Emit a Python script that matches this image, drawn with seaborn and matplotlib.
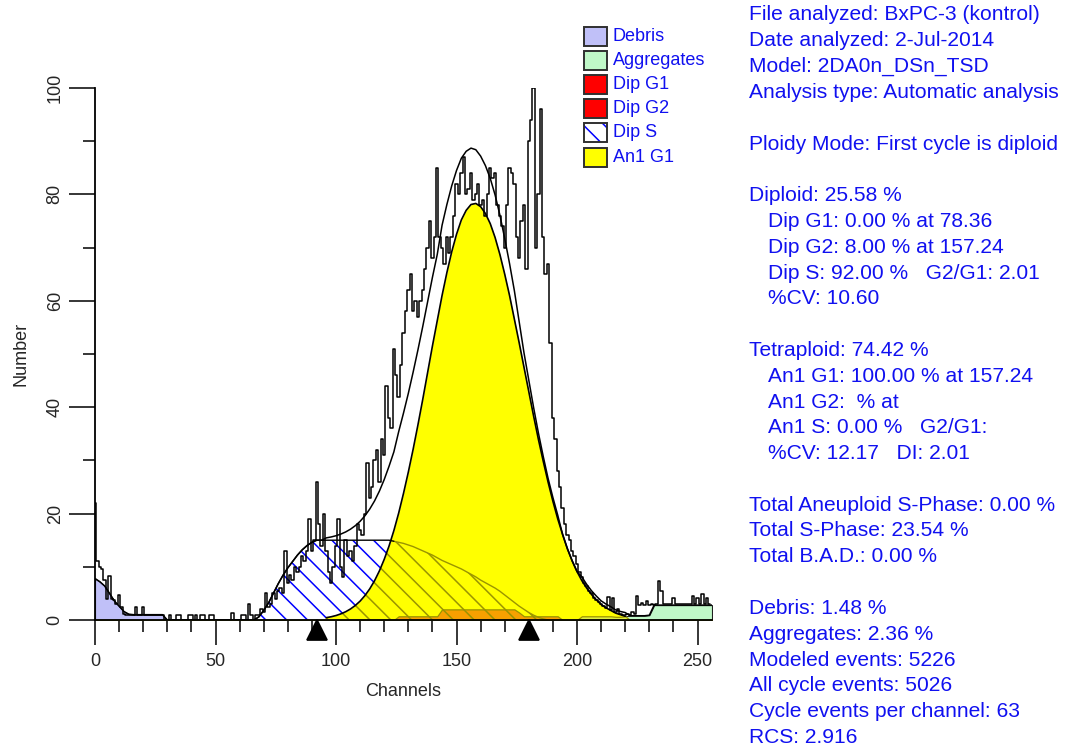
import numpy as np
import matplotlib
matplotlib.use("Agg")
import matplotlib.pyplot as plt
from matplotlib.patches import Rectangle
from matplotlib.ticker import MultipleLocator
import seaborn as sns

# ---------------- data ----------------
# raw DNA histogram, one value per channel 0..255
raw_counts = [
    22, 11, 10, 9.5, 7.5, 4, 8.3, 4, 3.8, 3, 4.7, 2.5, 1.2, 1, 1, 1, 1, 2.4, 1, 1,
    2.4, 1, 1, 1, 1, 1, 1, 1, 1, 0, 0, 1, 0, 0, 1, 1, 0, 0, 0, 1,
    1, 0, 1, 0, 1, 1, 0, 0, 1, 1, 0, 0, 0, 0, 0, 0, 0, 1.3, 0, 0,
    0, 1, 1, 0, 3, 1, 0, 1, 1, 2, 1.5, 5, 2.5, 3, 5, 4, 5.5, 6, 5, 13,
    7, 8.5, 7.5, 10, 9, 10, 12, 11, 13, 19, 13, 15, 26, 18, 14, 20, 13, 9, 7, 10,
    14, 19, 10, 8, 15, 12, 13, 11, 14, 18, 17, 16, 20, 29.5, 23, 25, 30, 32, 26, 34,
    31, 44, 38, 36, 51, 46, 42, 48, 54, 58, 62, 65, 58, 60, 57, 60, 62, 66, 70, 75,
    68, 72, 85, 72, 70, 67, 72, 69, 72, 76, 82, 80, 84, 87, 80, 81, 84, 79, 80, 82,
    78, 79, 76, 80, 85, 83, 84, 78, 76, 74, 70, 78, 85, 84, 82, 72, 68, 75, 78, 66,
    90, 94, 100, 70, 80, 96, 72, 65, 67, 52, 38, 34, 28, 25, 21, 18, 16, 15, 13, 12,
    10.5, 9, 8, 7, 6.3, 5.5, 5, 4.2, 3.8, 3.3, 3, 2.6, 2.3, 4.4, 1.8, 4.2, 1.5, 2, 1.2, 1,
    1, 1.2, 1, 1.5, 1.2, 4.5, 2.9, 3.2, 2.9, 3.5, 2.9, 3, 2.9, 3, 7.3, 5.4, 3, 3, 3, 3,
    4.2, 3, 3, 3, 3, 3, 3, 3, 4.5, 3, 4.2, 3, 4.8, 3, 4.1, 3,
]

# model components, sampled every 2 channels from their start channel
debris_start = 0
debris = [7.8, 7.2, 6.4, 5.0, 3.6, 2.6, 1.6, 1.1, 1.0, 1.0, 1.0, 1.0, 1.0, 1.0, 1.0, 0.0]

dip_s_start = 66
dip_s = [0, 0.6, 1.8, 3.2, 5.0, 6.8, 8.4, 9.8, 11.0, 12.2, 13.2, 14.0, 14.6,
         15, 15, 15, 15, 15, 15, 15, 15, 15, 15, 15, 15, 15, 15, 15, 15,
         14.8, 14.6, 14.4, 14.1, 13.8, 13.4, 13.0, 12.6, 12.2, 11.7, 11.2, 10.8,
         10.4, 10.0, 9.6, 9.1, 8.6, 8.1, 7.5, 7.0, 6.5, 6.0, 5.4, 4.7, 4.0, 3.3,
         2.6, 2.0, 1.4, 0.9, 0.5, 0.2, 0]

dip_g2_start = 124
dip_g2 = [0, 0.7, 0.7, 0.7, 0.7, 0.7, 0.7, 0.7, 0.7, 0.7,
          2.0, 2.0, 2.0, 2.0, 2.0, 2.0, 2.0, 2.0, 2.0, 2.0, 2.0, 2.0, 2.0, 2.0, 2.0, 2.0,
          1.4, 0.7, 0.7, 0.7, 0.7, 0.7, 0.7, 0.7, 0.7, 0]

an1_g1_start = 94
an1_g1 = [0, 0.44, 0.61, 0.84, 1.15, 1.55, 2.07, 2.73, 3.55, 4.59, 5.86, 7.39, 9.23,
          11.4, 13.9, 16.8, 20.1, 23.8, 27.8, 32.1, 36.7, 41.5, 46.5, 51.5, 56.3,
          61.0, 65.3, 69.2, 72.5, 75.2, 77.0, 78.1, 78.3, 77.7, 76.4, 74.5, 71.9,
          68.7, 65.0, 61.0, 56.6, 52.1, 47.5, 42.9, 38.3, 33.9, 29.8, 25.9, 22.3,
          19.0, 16.1, 13.4, 11.1, 9.1, 7.4, 6.0, 4.8, 3.8, 2.9, 2.3, 1.8, 1.3,
          1.0, 0.7, 0]

aggregates_start = 200
aggregates = [0, 0.7, 0.7, 0.7, 0.7, 0.7, 0.7, 0.7, 0.6, 0.6, 0.7, 0.8, 0.8, 0.8, 0.8,
              0.9, 2.8, 2.8, 2.8, 2.8, 2.8, 2.8, 2.8, 2.8, 2.8, 2.8, 2.8, 2.8, 2.8]

region_markers = [92, 180]

x_ticks = [0, 50, 100, 150, 200, 250]
y_ticks = [0, 20, 40, 60, 80, 100]

legend_labels = ["Debris", "Aggregates", "Dip G1", "Dip G2", "Dip S", "An1 G1"]
legend_faces = ["#C0C0F8", "#C0F8C8", "#FF0000", "#FF0000", "white", "#FFFF00"]

info_lines = [
    "File analyzed: BxPC-3 (kontrol)",
    "Date analyzed: 2-Jul-2014",
    "Model: 2DA0n_DSn_TSD",
    "Analysis type: Automatic analysis",
    "",
    "Ploidy Mode: First cycle is diploid",
    "",
    "Diploid: 25.58 %",
    "   Dip G1: 0.00 % at 78.36",
    "   Dip G2: 8.00 % at 157.24",
    "   Dip S: 92.00 %   G2/G1: 2.01",
    "   %CV: 10.60",
    "",
    "Tetraploid: 74.42 %",
    "   An1 G1: 100.00 % at 157.24",
    "   An1 G2:  % at",
    "   An1 S: 0.00 %   G2/G1:",
    "   %CV: 12.17   DI: 2.01",
    "",
    "Total Aneuploid S-Phase: 0.00 %",
    "Total S-Phase: 23.54 %",
    "Total B.A.D.: 0.00 %",
    "",
    "Debris: 1.48 %",
    "Aggregates: 2.36 %",
    "Modeled events: 5226",
    "All cycle events: 5026",
    "Cycle events per channel: 63",
    "RCS: 2.916",
]

# ---------------- style ----------------
DPI = 125
K = 100.0 / DPI          # converts "points at 100 dpi" into points at DPI


def p(v):
    return v * K


sns.set_style("ticks")
plt.rcParams["font.family"] = ["Liberation Sans", "DejaVu Sans"]
plt.rcParams["hatch.linewidth"] = p(1.1)

BLUE_TXT = "#1010F0"
OLIVE = "#9A9400"
ORANGE = "#F8A000"
YGREEN = "#E0F040"

W, H = 1079, 756
fig = plt.figure(figsize=(W / DPI, H / DPI), dpi=DPI)
fig.patch.set_facecolor("white")
ax = fig.add_axes([95 / W, (H - 620) / H, (712 - 95) / W, (620 - 88) / H])
ax.set_facecolor("white")

# ---------------- component arrays on common grid ----------------
grid = np.arange(0, 258, 2)


def place(start, vals):
    arr = np.zeros(len(grid))
    i0 = start // 2
    arr[i0:i0 + len(vals)] = vals
    return arr


deb_g = place(debris_start, debris)
dips_g = place(dip_s_start, dip_s)
g2_g = place(dip_g2_start, dip_g2)
an1_g = place(an1_g1_start, an1_g1)
agg_g = place(aggregates_start, aggregates)
total_g = deb_g + dips_g + g2_g + an1_g + agg_g

# Dip S : white with blue hatch
ax.fill_between(grid, 0, dips_g, facecolor="white", edgecolor="#0000FF",
                hatch="\\\\", linewidth=0, zorder=1)
# debris, aggregates, dip G2
ax.fill_between(grid, 0, deb_g, facecolor="#C0C0F8", edgecolor="#202020",
                linewidth=p(0.8), zorder=1)
ax.fill_between(grid, 0, agg_g, facecolor="#C0F8C8", edgecolor="#202020",
                linewidth=p(0.8), zorder=1)
ax.fill_between(grid, 0, g2_g, facecolor="#FF0000", linewidth=0, zorder=1)
# An1 G1 yellow
ax.fill_between(grid, 0, an1_g, facecolor="#FFFF00", linewidth=0, zorder=2)
# overlaps seen through the yellow
ax.fill_between(grid, 0, np.minimum(g2_g, an1_g), facecolor=ORANGE,
                edgecolor=OLIVE, linewidth=p(0.9), zorder=3)
ax.fill_between(grid, 0, np.minimum(agg_g, an1_g), facecolor=YGREEN,
                edgecolor=OLIVE, linewidth=p(0.9), zorder=3)
ov_s = np.minimum(dips_g, an1_g)
ax.fill_between(grid, 0, ov_s, facecolor="none", edgecolor=OLIVE,
                hatch="\\\\", linewidth=0, zorder=4)

# Dip S outline: black outside yellow, olive inside
inside = dips_g <= an1_g
out_line = np.where(~inside | np.roll(~inside, 1) | np.roll(~inside, -1), dips_g, np.nan)
in_line = np.where(inside & (dips_g > 0) | np.roll(inside & (dips_g > 0), 1), dips_g, np.nan)
ax.plot(grid, in_line, color=OLIVE, lw=p(1.0), zorder=4)
mask_pos = (dips_g > 0) | np.roll(dips_g > 0, 1) | np.roll(dips_g > 0, -1)
ax.plot(grid, np.where(mask_pos, out_line, np.nan), color="black", lw=p(1.0), zorder=4)

# yellow outline
ax.plot(grid, np.where(an1_g > 0, an1_g, np.nan), color="black", lw=p(1.2), zorder=5)

# model sum
sns.lineplot(x=grid, y=total_g, color="black", lw=p(1.1), ax=ax, zorder=6,
             errorbar=None, sort=False)
# raw histogram
channels = np.arange(len(raw_counts))
sns.lineplot(x=channels, y=raw_counts, color="black", lw=p(1.1), ax=ax, zorder=7,
             drawstyle="steps-mid", errorbar=None, sort=False)

# region markers
ax.plot(region_markers, [-1.9] * len(region_markers), linestyle="none", marker="^",
        ms=p(14), color="black", clip_on=False, zorder=8)

# ---------------- axes ----------------
ax.set_xlim(0, 256)
ax.set_ylim(0, 100)
ax.set_xticks(x_ticks)
ax.set_yticks(y_ticks)
ax.xaxis.set_minor_locator(MultipleLocator(10))
ax.yaxis.set_minor_locator(MultipleLocator(10))
for s in ["top", "right"]:
    ax.spines[s].set_visible(False)
for s in ["left", "bottom"]:
    ax.spines[s].set_linewidth(p(1.3))
    ax.spines[s].set_color("black")
    ax.spines[s].set_zorder(9)
ax.tick_params(which="major", length=p(18), width=p(1.1), color="black",
               labelsize=p(13), pad=p(6), direction="out")
ax.tick_params(which="minor", length=p(8.6), width=p(1.1), color="black", direction="out")
ax.tick_params(axis="y", which="major", labelrotation=90, length=p(19), pad=p(3.5))
for lab in ax.get_yticklabels():
    lab.set_va("center")
ax.set_xlabel("Channels", fontsize=p(13))
ax.set_ylabel("Number", fontsize=p(13))
ax.xaxis.set_label_coords(0.5, -(692 - 620) / 532)
ax.xaxis.label.set_va("center")
ax.yaxis.set_label_coords((21 - 95) / 617, 0.5)
ax.yaxis.label.set_va("center")
ax.grid(False)

# ---------------- legend (drawn manually) ----------------
row0, dy = 36.5, 24.1
for i, (lab, fc) in enumerate(zip(legend_labels, legend_faces)):
    yc = row0 + i * dy
    x0, bw, bh = 584, 23, 19
    rect_y = H - (yc + bh / 2)
    if lab == "Dip S":
        fig.add_artist(Rectangle((x0 / W, rect_y / H), bw / W, bh / H,
                                 transform=fig.transFigure, facecolor="white",
                                 edgecolor="#0000FF", hatch="\\\\", linewidth=0))
        fig.add_artist(Rectangle((x0 / W, rect_y / H), bw / W, bh / H,
                                 transform=fig.transFigure, facecolor="none",
                                 edgecolor="#303030", linewidth=p(1.4)))
    else:
        fig.add_artist(Rectangle((x0 / W, rect_y / H), bw / W, bh / H,
                                 transform=fig.transFigure, facecolor=fc,
                                 edgecolor="#303030", linewidth=p(1.4)))
    fig.text(613 / W, 1 - yc / H, lab, color=BLUE_TXT, fontsize=p(13),
             va="center", ha="left")

# ---------------- info text ----------------
y_first, line_dy = 15, 25.8
for i, line in enumerate(info_lines):
    if not line:
        continue
    indent = len(line) - len(line.lstrip(" "))
    x = 749 + (19 if indent else 0)
    fig.text(x / W, 1 - (y_first + i * line_dy) / H, line.strip(), color=BLUE_TXT,
             fontsize=p(15.1), va="center", ha="left")

fig.savefig("out.png", dpi=DPI, facecolor="white")
